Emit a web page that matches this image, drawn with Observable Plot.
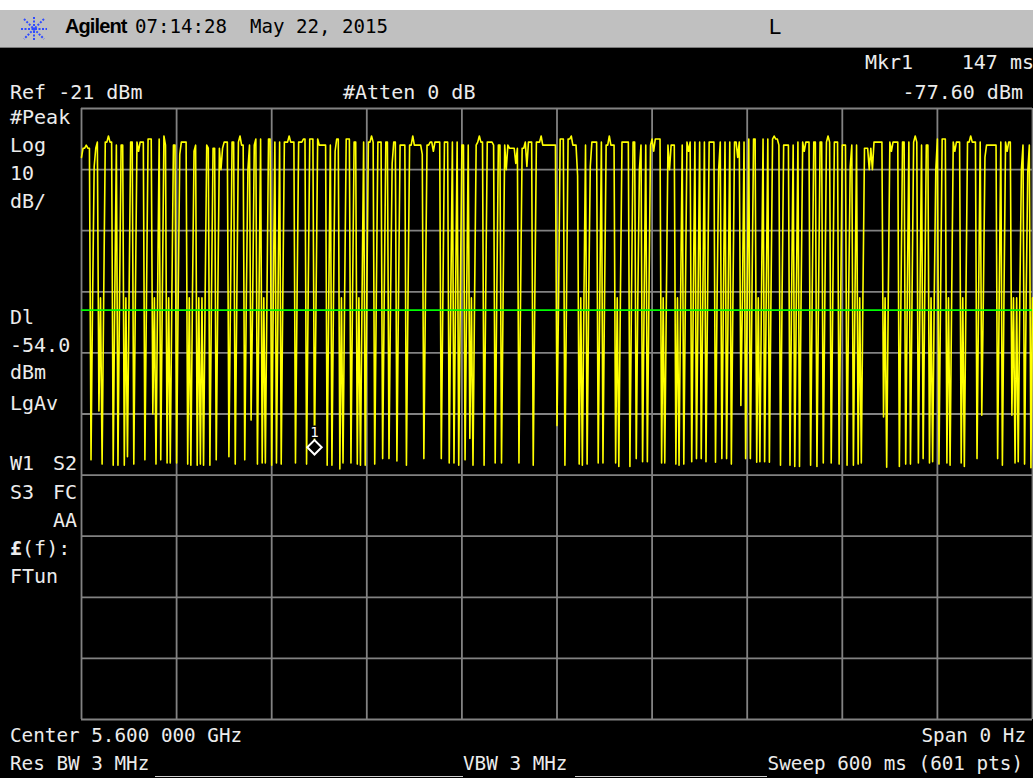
<!DOCTYPE html>
<html><head><meta charset="utf-8">
<script src="https://cdn.jsdelivr.net/npm/d3@7"></script>
<script src="https://cdn.jsdelivr.net/npm/@observablehq/plot@0.6"></script>
<style>
html,body{margin:0;padding:0;background:#000;width:1033px;height:778px;overflow:hidden;}
#wrap{position:relative;width:1033px;height:778px;background:#000;overflow:hidden;}
#topwhite{position:absolute;left:0;top:0;width:1033px;height:10px;background:#fff;}
#bar{position:absolute;left:0;top:10px;width:1033px;height:37px;background:#c0c0c0;border-bottom:1px solid #7a7a7a;}
#chart{position:absolute;left:0;top:48px;}
.t{position:absolute;font-family:"DejaVu Sans Mono",monospace;font-size:20px;line-height:20px;color:#ececec;white-space:pre;z-index:5;}
.b{font-size:19.3px;}
.h{position:absolute;white-space:pre;color:#000;line-height:20px;}
.ul{position:absolute;height:1px;background:#d0d0d0;top:776px;z-index:5;}
</style></head>
<body><div id="wrap">
<div id="topwhite"></div>
<div id="bar">
  <svg style="position:absolute;left:20px;top:7px" width="28" height="24" viewBox="0 0 28 24">
    <g stroke="#2f4bff" stroke-width="2" stroke-dasharray="2 1.5">
      <line x1="14" y1="0" x2="14" y2="24"/>
      <line x1="1" y1="12" x2="27" y2="12"/>
      <line x1="4" y1="2" x2="24" y2="22"/>
      <line x1="24" y1="2" x2="4" y2="22"/>
    </g>
  </svg>
  <div class="h" style="left:65px;top:6px;font-family:'Liberation Sans',Arial,sans-serif;font-weight:bold;font-size:20px;letter-spacing:-0.9px;">Agilent</div>
  <div class="h" style="left:135px;top:7px;font-family:'DejaVu Sans Mono',monospace;font-size:19.1px;">07:14:28  May 22, 2015</div>
  <div class="h" style="left:769px;top:7px;font-family:'Liberation Sans',Arial,sans-serif;font-size:22px;">L</div>
</div>
<div id="chart"></div>
<div class="t" style="left:865px;top:52px;">Mkr1</div>
<div class="t" style="right:-1px;top:52px;">147 ms</div>
<div class="t" style="left:10px;top:82px;">Ref -21 dBm</div>
<div class="t" style="left:343px;top:82px;">#Atten 0 dB</div>
<div class="t" style="right:10px;top:82px;">-77.60 dBm</div>
<div class="t" style="left:10px;top:107px;">#Peak</div>
<div class="t" style="left:10px;top:135px;">Log</div>
<div class="t" style="left:10px;top:163px;">10</div>
<div class="t" style="left:10px;top:191px;">dB/</div>
<div class="t" style="left:10px;top:307px;">Dl</div>
<div class="t" style="left:10px;top:335px;">-54.0</div>
<div class="t" style="left:10px;top:362px;">dBm</div>
<div class="t" style="left:10px;top:393px;">LgAv</div>
<div class="t" style="left:10px;top:453px;">W1</div>
<div class="t" style="left:53px;top:453px;">S2</div>
<div class="t" style="left:10px;top:482px;">S3</div>
<div class="t" style="left:53px;top:482px;">FC</div>
<div class="t" style="left:53px;top:510px;">AA</div>
<div class="t" style="left:10px;top:538px;"><b>£</b>(f):</div>
<div class="t" style="left:10px;top:566px;">FTun</div>
<div class="t b" style="left:10px;top:726px;">Center 5.600 000 GHz</div>
<div class="t b" style="right:7px;top:726px;">Span 0 Hz</div>
<div class="t b" style="left:10px;top:754px;">Res BW 3 MHz</div>
<div class="t b" style="left:463px;top:754px;">VBW 3 MHz</div>
<div class="t b" style="right:10px;top:754px;">Sweep 600 ms (601 pts)</div>
<div class="ul" style="left:155px;width:308px;"></div>
<div class="ul" style="left:575px;width:192px;"></div>
</div>
<script>
// Axis / grid (10 divisions each)
const xGridTicks = [0, 60, 120, 180, 240, 300, 360, 420, 480, 540, 600]; // ms
const yGridTicks = [-21, -31, -41, -51, -61, -71, -81, -91, -101, -111, -121]; // dBm
const refLevel = -21;
const bottomLevel = -121;
const displayLine = -54;
const shoulderLevel = -52;
const sweepPoints = 601;

// top (signal-on) level read per 10 ms block
const topLevel = [
  -27.5, -26.5, -27, -26.5, -26, -27, -26.5, -27, -27.5, -26.5,
  -27, -26, -26.5, -26.5, -26, -27, -26, -26.5, -26.5, -26.5,
  -27, -27, -26.5, -26.5, -27, -26.5, -27, -27.5, -26.5, -27,
  -26, -27, -26.5, -27, -26.5, -27, -26, -27, -26.5, -26.5,
  -26.5, -26.5, -26, -26, -27, -26.5, -26.5, -26.5, -27, -27.5,
  -26.5, -26.5, -26.5, -27, -26, -26.5, -26.5, -27, -26.5, -27,
  -28
];

// short notches / bumps in the top level
const notchTimes  = [0, 3, 8, 17, 36, 52, 62, 71, 88, 100, 105, 131, 160, 183, 196, 209, 215, 222, 251, 268, 274, 281, 290, 309, 313, 321, 333, 352, 361, 371, 383, 402, 414, 437, 456, 471, 485, 497, 499, 511, 526, 539, 551, 561, 570, 584, 593, 597];
const notchLevels = [-29, -27, -30.5, -25.5, -28, -25.5, -28.5, -28, -31, -25.5, -31, -25.5, -28, -25.5, -30, -25.5, -28.5, -28, -25.5, -31, -30, -30.5, -25.5, -25.5, -32, -30.5, -25.5, -31, -28, -31, -28, -31, -29, -25.5, -28, -25.5, -30.5, -31, -31, -28, -25.5, -31, -28, -25.5, -29, -28, -31, -31.5];

// dropouts (ms) and their lowest level (dBm)
const dipTimes = [
  6, 11, 13, 20, 23, 27, 29, 33, 40, 45, 47, 50, 54, 56, 60, 67, 69, 73, 75, 77,
  81, 85, 93, 97, 103, 107, 111, 114, 116, 120, 123, 126, 135, 142, 147,
  155, 158, 163, 165, 170, 174, 176, 179, 185, 190, 194, 199, 205, 216, 227, 232,
  235, 238, 242, 245, 247, 254, 261, 265, 276, 285, 300,
  305, 314, 316, 319, 326, 329, 337, 339, 346, 350, 354, 357, 366, 368, 375, 377,
  380, 385, 388, 391, 394, 400, 404, 407, 410, 416, 419, 422, 426, 428, 431, 434, 441, 447,
  450, 453, 460, 464, 468, 473, 478, 483, 487, 490, 492, 506, 508, 516, 520, 523,
  528, 531, 535, 537, 541, 546, 548, 555, 557, 565, 568, 578, 581, 587, 589, 591, 595, 599
];
const dipLevels = [
  -78.5, -70.5, -79.2, -79.4, -79.4, -79.4, -78, -79.2, -78.5, -71, -79.2, -78.5, -79, -79, -79, -79.2, -79.4, -79.4, -79.2, -79.4,
  -79.4, -78.5, -78, -79.2, -78.5, -72, -79.2, -79, -79, -79.4, -79, -79.2, -79, -79.2, -77.6,
  -79.4, -79.4, -80, -79, -79, -79.2, -79.4, -79.4, -79.2, -78.3, -78.3, -78.7, -79.4, -78.3, -78.3, -79,
  -79, -79.4, -78.5, -75, -79.4, -79.4, -79, -79, -79, -79.4, -72.9,
  -79.4, -79.2, -79.4, -79.2, -79, -79, -79, -79.6, -79.6, -78.3, -78.8, -78.8, -79, -79, -79.2, -79.4,
  -79.2, -78.8, -78.3, -78.3, -78.8, -78.9, -78.3, -78.3, -79.2, -69.6, -78.3, -78.3, -78.9, -78.8, -78.8, -78.9, -79.4, -79.4,
  -79.6, -79.6, -79.4, -79.6, -79, -79, -79.2, -79.4, -79.4, -79.2, -79, -71.5, -79.7, -79.6, -79.2, -79.2,
  -79, -78.3, -79, -78.8, -79.2, -79, -79.4, -79, -79.6, -78.3, -71.2, -78.3, -79.4, -71.2, -79, -78.8, -79.2, -79.8
];

const markerTime = 147;
const markerLevel = -77.6;
const markerLabel = "1";

// assemble the 601-point trace from the readings above
const series = d3.range(sweepPoints).map(t => ({t, v: topLevel[Math.floor(t / 10)]}));
notchTimes.forEach((t, i) => { series[t].v = notchLevels[i]; });
dipTimes.forEach(t => { if (t + 1 < sweepPoints) series[t + 1].v = shoulderLevel; });
dipTimes.forEach((t, i) => { series[t].v = dipLevels[i]; });

const marker = [{t: markerTime, v: markerLevel, label: markerLabel}];

const chart = Plot.plot({
  width: 1033,
  height: 730,
  marginLeft: 81,
  marginRight: 1,
  marginTop: 60,
  marginBottom: 59,
  x: {domain: [0, 600], axis: null},
  y: {domain: [bottomLevel, refLevel], axis: null},
  style: {background: "#000"},
  marks: [
    Plot.ruleX(xGridTicks, {stroke: "#828282", strokeWidth: 1.8}),
    Plot.ruleY(yGridTicks, {stroke: "#828282", strokeWidth: 1.8}),
    Plot.line(series, {x: "t", y: "v", stroke: "#ffff00", strokeWidth: 1.6}),
    Plot.ruleY([displayLine], {stroke: "#00ff00", strokeWidth: 1.6}),
    Plot.text(marker, {x: "t", y: "v", text: "label", dy: -22, fill: "#fff", stroke: "#000", strokeWidth: 3, fontSize: 14, fontFamily: "DejaVu Sans Mono"}),
    Plot.dot(marker, {x: "t", y: "v", symbol: "diamond2", r: 6.5, stroke: "#fff", fill: "#000", strokeWidth: 2, dy: -7})
  ]
});
document.getElementById("chart").appendChild(chart);
</script>
</body></html>
